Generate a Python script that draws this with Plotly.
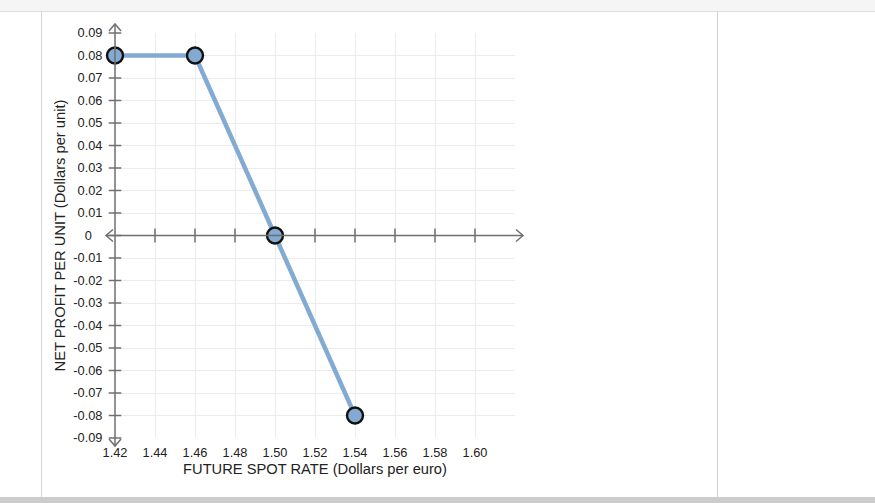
import plotly.graph_objects as go

# ---- data ----
spot_rate = [1.42, 1.46, 1.50, 1.54]
net_profit = [0.08, 0.08, 0.00, -0.08]
x_ticks = [1.42, 1.44, 1.46, 1.48, 1.50, 1.52, 1.54, 1.56, 1.58, 1.60]
x_tick_labels = ["1.42", "1.44", "1.46", "1.48", "1.50", "1.52", "1.54", "1.56", "1.58", "1.60"]
y_ticks = [0.09, 0.08, 0.07, 0.06, 0.05, 0.04, 0.03, 0.02, 0.01, 0.0,
           -0.01, -0.02, -0.03, -0.04, -0.05, -0.06, -0.07, -0.08, -0.09]
y_tick_labels = ["0.09", "0.08", "0.07", "0.06", "0.05", "0.04", "0.03", "0.02", "0.01", "0",
                 "-0.01", "-0.02", "-0.03", "-0.04", "-0.05", "-0.06", "-0.07", "-0.08", "-0.09"]
x_range = [1.42, 1.62]
y_range = [-0.09, 0.09]

W, H = 875, 503
L, R, T, B = 115, 515, 33, 438  # plot area in pixels


def px(p):
    return (p - L) / (R - L)


def py(p):
    return (B - p) / (B - T)


FONT = "Liberation Sans, Arial, sans-serif"
AXIS_COLOR = "#6f6f6f"
BLUE = "#82aad2"
TICK_SIZE = 12.8
TITLE_SIZE = 14.7

# the zero label sits clear of the axis arrow
y_ticktext = [t + "\u00a0\u00a0\u00a0" if v == 0 else t for v, t in zip(y_ticks, y_tick_labels)]

fig = go.Figure()

# tick marks on the axes
fig.add_trace(go.Scatter(
    x=[v for v in x_ticks if v != x_range[0]],
    y=[0] * (len(x_ticks) - 1),
    mode="markers",
    marker=dict(symbol="line-ns-open", size=10, color=AXIS_COLOR,
                line=dict(color=AXIS_COLOR, width=1.5)),
    hoverinfo="skip", showlegend=False, cliponaxis=False,
))
fig.add_trace(go.Scatter(
    x=[x_range[0]] * len(y_ticks),
    y=y_ticks,
    mode="markers",
    marker=dict(symbol="line-ew-open", size=9, color=AXIS_COLOR,
                line=dict(color=AXIS_COLOR, width=1.5)),
    hoverinfo="skip", showlegend=False, cliponaxis=False,
))

# data line
fig.add_trace(go.Scatter(
    x=spot_rate, y=net_profit,
    mode="lines+markers",
    line=dict(color=BLUE, width=4.5),
    marker=dict(size=16, color=BLUE, line=dict(color="#111111", width=2.4)),
    showlegend=False, cliponaxis=False,
))

shapes = []
# page decorations
shapes.append(dict(type="rect", xref="paper", yref="paper", x0=px(0), x1=px(W), y0=py(11), y1=py(0),
                   fillcolor="#f5f5f5", line=dict(width=0), layer="below"))
shapes.append(dict(type="line", xref="paper", yref="paper", x0=px(0), x1=px(W), y0=py(11.5), y1=py(11.5),
                   line=dict(color="#dedede", width=1)))
shapes.append(dict(type="line", xref="paper", yref="paper", x0=px(41.5), x1=px(41.5), y0=py(497), y1=py(11.5),
                   line=dict(color="#d6d6d6", width=1)))
shapes.append(dict(type="line", xref="paper", yref="paper", x0=px(717.5), x1=px(717.5), y0=py(497), y1=py(11.5),
                   line=dict(color="#d0d0d0", width=1)))
shapes.append(dict(type="rect", xref="paper", yref="paper", x0=px(0), x1=px(W), y0=py(503), y1=py(497),
                   fillcolor="#cccccc", line=dict(width=0)))


def paper_path(points):
    return "M " + " L ".join(f"{px(a):.5f},{py(b):.5f}" for a, b in points)


ax_line = dict(color=AXIS_COLOR, width=1.5)
Y0 = T + (y_range[1] - 0) / (y_range[1] - y_range[0]) * (B - T)  # pixel row of y = 0
for pts in ([(106, Y0), (523, Y0)],
            [(113, Y0 - 6), (106, Y0), (113, Y0 + 6)],
            [(516, Y0 - 6), (523, Y0), (516, Y0 + 6)],
            [(L, 24), (L, 446)],
            [(L - 6, 31), (L, 24), (L + 6, 31)],
            [(L - 6, 439), (L, 446), (L + 6, 439)]):
    shapes.append(dict(type="path", xref="paper", yref="paper", path=paper_path(pts), line=ax_line))

fig.update_layout(
    width=W, height=H,
    margin=dict(l=L, r=W - R, t=T, b=H - B, pad=0),
    paper_bgcolor="white", plot_bgcolor="white",
    font=dict(family=FONT, size=TICK_SIZE, color="#222222"),
    shapes=shapes,
    xaxis=dict(
        range=x_range, tickvals=x_ticks, ticktext=x_tick_labels,
        showgrid=True, gridcolor="#ececec", gridwidth=1,
        zeroline=False, showline=False,
        ticks="outside", ticklen=3, tickcolor="rgba(0,0,0,0)",
        tickfont=dict(family=FONT, size=TICK_SIZE, color="#222222"),
        title=dict(text="FUTURE SPOT RATE (Dollars per euro)",
                   font=dict(family=FONT, size=TITLE_SIZE, color="#222222"), standoff=4),
        fixedrange=True, automargin=False,
    ),
    yaxis=dict(
        range=y_range, tickvals=y_ticks, ticktext=y_ticktext,
        showgrid=True, gridcolor="#ececec", gridwidth=1,
        zeroline=False, showline=False,
        ticks="outside", ticklen=9, tickcolor="rgba(0,0,0,0)",
        tickfont=dict(family=FONT, size=TICK_SIZE, color="#222222"),
        title=dict(text="NET PROFIT PER UNIT (Dollars per unit)",
                   font=dict(family=FONT, size=TITLE_SIZE, color="#222222"), standoff=4),
        fixedrange=True, automargin=False,
    ),
)

fig.write_html("out.html", config={"displayModeBar": False},
               post_script="document.body.style.margin='0';document.body.style.overflow='hidden';")
